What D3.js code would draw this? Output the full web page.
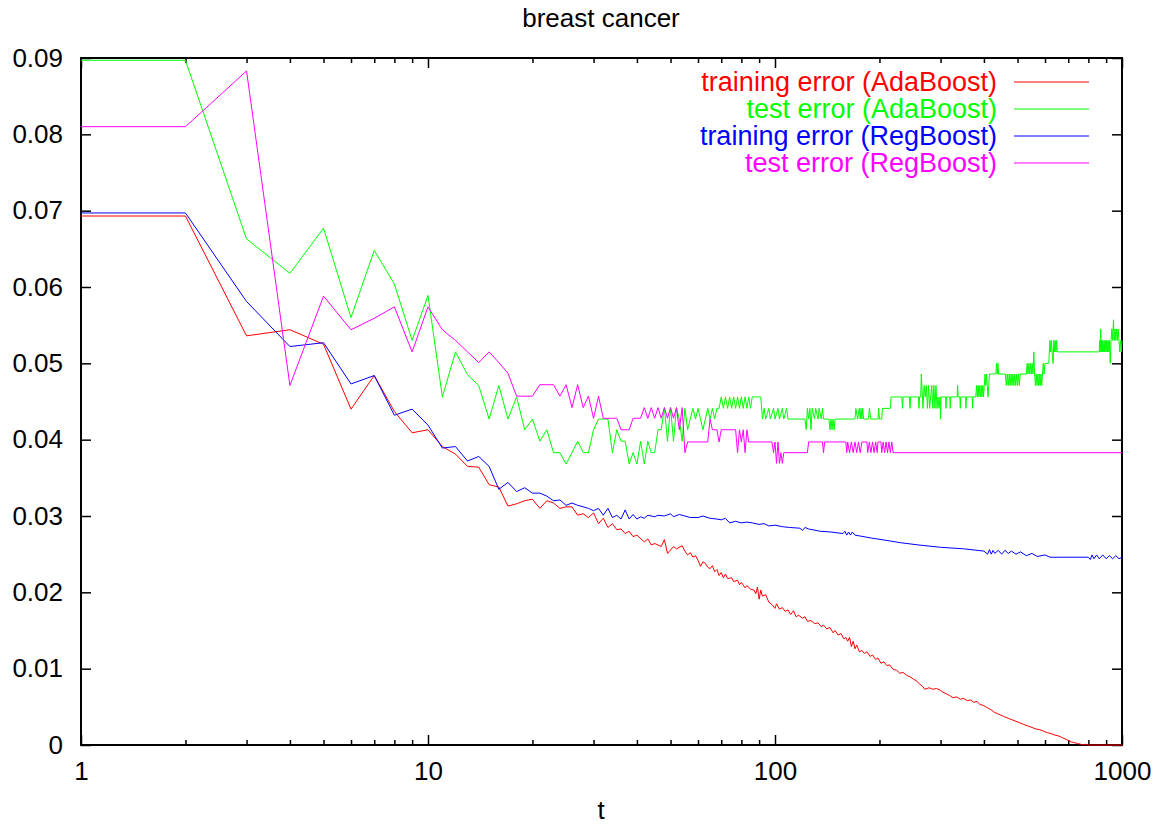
<!DOCTYPE html>
<html>
<head>
<meta charset="utf-8">
<script src="https://cdnjs.cloudflare.com/ajax/libs/d3/7.8.5/d3.min.js"></script>
<style>
  html, body { margin: 0; padding: 0; background: #fff; }
  svg { display: block; }
  text { font-family: "Liberation Sans", Arial, Helvetica, sans-serif; }
</style>
</head>
<body>
<svg id="chart" width="1161" height="824"></svg>
<script>
// ---------------- data ----------------
const chartTitle = "breast cancer";
const xLabel = "t";
const seriesNames = ["training error (AdaBoost)", "test error (AdaBoost)", "training error (RegBoost)", "test error (RegBoost)"];
const seriesColors = ["#ff0000", "#00ff00", "#0000ff", "#ff00ff"];
const xTickValues = [1, 10, 100, 1000];
const xMinorTicks = [2,3,4,5,6,7,8,9,20,30,40,50,60,70,80,90,200,300,400,500,600,700,800,900];
const yTickValues = [0, 0.01, 0.02, 0.03, 0.04, 0.05, 0.06, 0.07, 0.08, 0.09];

const trainAda = [[1,0.0693],[2,0.0693],[3,0.0536],[4,0.0544],[5,0.0525],[6,0.0440],[7,0.0484],[8,0.0437],[9,0.0409],[10,0.0413],[11,0.0391],[12,0.0381],[13,0.0365],[14,0.0364],[15,0.0341],[16,0.0338],[17,0.0313],[18,0.0316],[19,0.0320],[20,0.0322],[21,0.0310],[22,0.0320],[23,0.0317],[24,0.0310],[25,0.0312],[26,0.0312],[27,0.0301],[28,0.0303],[29,0.0298],[30,0.0304],[31,0.0290],[32,0.0297],[33,0.0285],[34,0.0290],[35,0.0282],[36,0.0283],[37,0.0277],[38,0.0280],[39,0.0273],[40,0.0275],[42,0.0266],[43,0.0270],[44,0.0262],[45,0.0264],[47,0.0260],[48,0.0269],[49,0.0251],[51,0.0260],[52,0.0257],[54,0.0261],[55,0.0254],[56,0.0249],[57,0.0252],[58,0.0246],[59,0.0248],[60,0.0242],[61,0.0234],[62,0.0240],[63,0.0238],[64,0.0233],[65,0.0231],[66,0.0235],[67,0.0227],[68,0.0230],[69,0.0222],[70,0.0226],[71,0.0219],[72,0.0224],[73,0.0218],[75,0.0219],[76,0.0214],[78,0.0216],[79,0.0210],[80,0.0213],[82,0.0206],[83,0.0209],[85,0.0204],[87,0.0203],[88,0.0198],[89,0.0207],[90,0.0191],[91,0.0203],[92,0.0195],[94,0.0197],[96,0.0187],[98,0.0184],[100,0.0179],[101,0.0185],[103,0.0178],[105,0.0180],[107,0.0175],[109,0.0177],[111,0.0171],[113,0.0176],[115,0.0168],[117,0.0170],[120,0.0166],[122,0.0168],[124,0.0162],[127,0.0163],[130,0.0159],[133,0.0160],[136,0.0155],[138,0.0157],[141,0.0152],[144,0.0154],[147,0.0147],[149,0.0150],[152,0.0144],[155,0.0146],[158,0.0139],[160,0.0141],[162,0.0136],[164,0.0141],[166,0.0129],[168,0.0136],[170,0.0126],[172,0.0131],[175,0.0122],[178,0.0124],[181,0.0120],[184,0.0122],[188,0.0116],[191,0.0118],[195,0.0112],[198,0.0114],[202,0.0107],[206,0.0109],[210,0.0104],[214,0.0105],[219,0.0099],[224,0.0098],[229,0.0094],[234,0.0095],[240,0.0091],[246,0.0089],[251,0.0086],[256,0.0084],[262,0.0079],[266,0.0077],[270,0.0073],[278,0.0075],[285,0.0073],[292,0.0074],[299,0.0072],[305,0.0069],[312,0.0067],[318,0.0065],[326,0.0062],[334,0.0063],[342,0.0060],[350,0.0061],[358,0.0058],[366,0.0059],[374,0.0056],[382,0.0057],[390,0.0053],[398,0.0052],[405,0.0050],[412,0.0048],[420,0.0046],[428,0.0043],[438,0.0041],[448,0.0039],[458,0.0037],[470,0.0035],[482,0.0033],[495,0.0031],[508,0.0029],[520,0.0027],[535,0.0025],[550,0.0023],[565,0.0021],[580,0.0020],[595,0.0018],[610,0.0016],[625,0.0015],[640,0.0013],[655,0.0012],[670,0.0010],[685,0.0008],[700,0.0006],[715,0.0004],[730,0.0003],[745,0.0002],[760,0.0001],[775,0.0000],[785,0.0001],[800,0.0000],[1000,0.0000]];

const testAda = [[1,0.0897],[2,0.0897],[3,0.0663],[4,0.0618],[5,0.0677],[6,0.0560],[7,0.0648],[8,0.0604],[9,0.0530],[10,0.0589],[11,0.0456],[12,0.0515],[13,0.0485],[14,0.0471],[15,0.0427],[16,0.0471],[17,0.0427],[18,0.0456],[19,0.0413],[20,0.0427],[21,0.0398],[22,0.0413],[23,0.0383],[24,0.0383],[25,0.0368],[26,0.0383],[27,0.0398],[28,0.0383],[29,0.0383],[30,0.0413],[31,0.0427],[32,0.0427],[33,0.0427],[34,0.0383],[35,0.0413],[36,0.0398],[37,0.0398],[38,0.0368],[39,0.0383],[40,0.0368],[41,0.0398],[42,0.0368],[43,0.0398],[44,0.0383],[45,0.0383],[46,0.0413],[47,0.0413],[48,0.0442],[49,0.0398],[50,0.0442],[51,0.0398],[52,0.0442],[53,0.0427],[54,0.0398],[55,0.0441],[56,0.0413],[57,0.0427],[58,0.0441],[59,0.0427],[60,0.0441],[61,0.0427],[62,0.0413],[63,0.0427],[64,0.0441],[65,0.0427],[66,0.0441],[67,0.0427],[68,0.0441],[69,0.0441],[70,0.0456],[71,0.0441],[72,0.0456],[73,0.0441],[74,0.0456],[75,0.0441],[76,0.0456],[77,0.0441],[78,0.0456],[79,0.0441],[80,0.0456],[81,0.0441],[82,0.0456],[83,0.0441],[84,0.0456],[85,0.0441],[86,0.0456],[91,0.0456],[92,0.0427],[93,0.0441],[94,0.0427],[96,0.0441],[97,0.0427],[99,0.0441],[100,0.0427],[102,0.0441],[103,0.0427],[105,0.0441],[106,0.0427],[108,0.0441],[109,0.0427],[122,0.0427],[123,0.0413],[124,0.0441],[125,0.0427],[126,0.0441],[127,0.0413],[128,0.0441],[130,0.0427],[131,0.0441],[133,0.0427],[134,0.0441],[136,0.0427],[137,0.0441],[138,0.0427],[143,0.0427],[144,0.0413],[145,0.0427],[146,0.0413],[147,0.0427],[148,0.0413],[149,0.0427],[170,0.0427],[171,0.0441],[173,0.0427],[175,0.0441],[176,0.0427],[177,0.0441],[178,0.0427],[179,0.0441],[180,0.0427],[186,0.0427],[187,0.0441],[189,0.0427],[198,0.0427],[199,0.0441],[200,0.0427],[203,0.0427],[204,0.0441],[215,0.0441],[216,0.0456],[232,0.0456],[233,0.0441],[234,0.0456],[244,0.0456],[245,0.0441],[246,0.0456],[259,0.0456],[260,0.0441],[261,0.0456],[263,0.0456],[264,0.0486],[265,0.0471],[267,0.0441],[269,0.0471],[271,0.0456],[273,0.0471],[275,0.0441],[277,0.0471],[279,0.0441],[281,0.0456],[283,0.0471],[285,0.0441],[287,0.0471],[289,0.0441],[291,0.0471],[293,0.0441],[295,0.0456],[297,0.0441],[299,0.0456],[300,0.0427],[301,0.0456],[310,0.0456],[311,0.0441],[312,0.0456],[319,0.0456],[320,0.0441],[321,0.0456],[335,0.0456],[336,0.0471],[337,0.0456],[341,0.0456],[342,0.0441],[343,0.0456],[354,0.0456],[355,0.0441],[356,0.0456],[370,0.0456],[371,0.0441],[372,0.0456],[379,0.0456],[381,0.0471],[383,0.0456],[385,0.0471],[387,0.0456],[389,0.0471],[391,0.0456],[393,0.0471],[395,0.0456],[397,0.0471],[399,0.0456],[401,0.0471],[403,0.0486],[405,0.0471],[407,0.0486],[409,0.0471],[411,0.0456],[413,0.0471],[415,0.0486],[433,0.0486],[435,0.0500],[437,0.0486],[439,0.0500],[441,0.0486],[461,0.0486],[464,0.0471],[467,0.0486],[470,0.0471],[473,0.0486],[476,0.0471],[479,0.0486],[482,0.0471],[485,0.0486],[488,0.0471],[491,0.0486],[494,0.0471],[497,0.0486],[500,0.0471],[503,0.0486],[506,0.0471],[509,0.0486],[530,0.0486],[533,0.0500],[536,0.0486],[539,0.0500],[542,0.0486],[545,0.0500],[548,0.0486],[551,0.0500],[554,0.0486],[557,0.0515],[560,0.0486],[563,0.0471],[566,0.0486],[569,0.0471],[572,0.0486],[575,0.0471],[578,0.0486],[581,0.0471],[584,0.0486],[587,0.0471],[590,0.0486],[593,0.0500],[596,0.0486],[600,0.0500],[615,0.0500],[620,0.0530],[623,0.0515],[626,0.0530],[629,0.0515],[633,0.0500],[636,0.0530],[639,0.0515],[642,0.0530],[645,0.0515],[648,0.0530],[651,0.0515],[860,0.0515],[862,0.0530],[865,0.0515],[868,0.0545],[871,0.0515],[874,0.0530],[877,0.0515],[880,0.0530],[884,0.0515],[888,0.0530],[892,0.0515],[896,0.0530],[900,0.0515],[904,0.0530],[908,0.0515],[912,0.0530],[916,0.0515],[920,0.0530],[925,0.0500],[930,0.0530],[935,0.0545],[940,0.0530],[945,0.0557],[950,0.0530],[955,0.0545],[960,0.0530],[965,0.0545],[970,0.0530],[975,0.0545],[980,0.0530],[985,0.0515],[990,0.0530],[995,0.0515],[1000,0.0530]];

const trainReg = [[1,0.0697],[2,0.0697],[3,0.0581],[4,0.0522],[5,0.0527],[6,0.0473],[7,0.0484],[8,0.0432],[9,0.0440],[10,0.0419],[11,0.0389],[12,0.0391],[13,0.0372],[14,0.0378],[15,0.0365],[16,0.0335],[17,0.0344],[18,0.0332],[19,0.0337],[20,0.0330],[21,0.0330],[22,0.0326],[23,0.0320],[24,0.0321],[25,0.0314],[26,0.0317],[27,0.0314],[28,0.0312],[29,0.0310],[30,0.0307],[31,0.0310],[32,0.0301],[33,0.0310],[34,0.0298],[35,0.0301],[36,0.0296],[37,0.0308],[38,0.0296],[39,0.0302],[40,0.0296],[41,0.0299],[42,0.0297],[43,0.0301],[45,0.0299],[46,0.0301],[48,0.0300],[50,0.0303],[51,0.0299],[53,0.0302],[55,0.0300],[57,0.0298],[60,0.0298],[62,0.0300],[65,0.0297],[68,0.0296],[70,0.0295],[72,0.0297],[74,0.0291],[77,0.0293],[80,0.0291],[83,0.0292],[86,0.0291],[90,0.0289],[93,0.0290],[96,0.0287],[100,0.0288],[105,0.0286],[110,0.0285],[118,0.0284],[120,0.0281],[122,0.0285],[125,0.0283],[135,0.0280],[145,0.0279],[157,0.0277],[159,0.0280],[161,0.0275],[163,0.0279],[165,0.0275],[167,0.0279],[170,0.0275],[190,0.0271],[210,0.0268],[230,0.0265],[260,0.0262],[300,0.0259],[350,0.0257],[400,0.0254],[410,0.0250],[415,0.0256],[420,0.0250],[425,0.0255],[430,0.0251],[440,0.0255],[450,0.0250],[460,0.0255],[470,0.0251],[480,0.0254],[495,0.0250],[510,0.0253],[530,0.0248],[550,0.0251],[570,0.0247],[600,0.0249],[620,0.0246],[650,0.0246],[800,0.0246],[810,0.0243],[820,0.0249],[830,0.0244],[845,0.0249],[860,0.0244],[880,0.0249],[900,0.0244],[920,0.0248],[940,0.0244],[960,0.0248],[980,0.0244],[1000,0.0246]];

const testReg = [[1,0.0810],[2,0.0810],[3,0.0883],[4,0.0471],[5,0.0588],[6,0.0544],[7,0.0559],[8,0.0574],[9,0.0515],[10,0.0574],[11,0.0544],[12,0.0530],[13,0.0515],[14,0.0501],[15,0.0515],[16,0.0501],[17,0.0487],[18,0.0457],[19,0.0457],[20,0.0457],[21,0.0472],[22,0.0472],[23,0.0472],[24,0.0457],[25,0.0472],[26,0.0442],[27,0.0472],[28,0.0442],[29,0.0457],[30,0.0428],[31,0.0457],[32,0.0428],[33,0.0428],[34,0.0428],[35,0.0428],[36,0.0413],[37,0.0413],[38,0.0413],[39,0.0428],[40,0.0428],[41,0.0428],[42,0.0442],[43,0.0428],[44,0.0442],[45,0.0428],[46,0.0442],[47,0.0428],[48,0.0442],[49,0.0428],[50,0.0442],[51,0.0428],[52,0.0442],[53,0.0413],[54,0.0442],[55,0.0383],[56,0.0397],[64,0.0397],[65,0.0427],[66,0.0413],[68,0.0413],[69,0.0397],[70,0.0413],[77,0.0413],[78,0.0383],[79,0.0413],[80,0.0397],[81,0.0413],[82,0.0383],[83,0.0413],[84,0.0397],[98,0.0397],[99,0.0383],[100,0.0397],[101,0.0369],[102,0.0397],[103,0.0369],[104,0.0383],[105,0.0369],[106,0.0383],[124,0.0383],[125,0.0397],[137,0.0397],[138,0.0383],[139,0.0397],[160,0.0397],[161,0.0383],[162,0.0397],[164,0.0383],[166,0.0397],[168,0.0383],[170,0.0397],[172,0.0383],[174,0.0397],[176,0.0383],[178,0.0397],[184,0.0397],[185,0.0383],[187,0.0397],[189,0.0383],[191,0.0397],[193,0.0383],[195,0.0397],[197,0.0383],[198,0.0397],[202,0.0397],[203,0.0383],[205,0.0397],[207,0.0383],[209,0.0397],[211,0.0383],[213,0.0397],[215,0.0383],[217,0.0397],[219,0.0383],[1000,0.0383]];

const allSeries = [trainAda, testAda, trainReg, testReg];

// ---------------- layout ----------------
const plotLeft = 81, plotRight = 1122, plotTop = 58, plotBottom = 745;
const fontSize = 26;
const legendFontSize = 27;

const svg = d3.select("#chart");
const x = d3.scaleLog().domain([1, 1000]).range([plotLeft, plotRight]);
const y = d3.scaleLinear().domain([0, 0.09]).range([plotBottom, plotTop]);

function styleAxis(g) {
  g.select(".domain").remove();
  g.selectAll(".tick line").attr("stroke", "#000").attr("stroke-width", 1.5);
  g.selectAll(".tick text").attr("fill", "#000").style("font-size", fontSize + "px")
    .style("font-family", '"Liberation Sans", Arial, sans-serif');
}

// left axis with labels
svg.append("g").attr("transform", `translate(${plotLeft},0)`)
  .call(d3.axisLeft(y).tickValues(yTickValues).tickSize(-10).tickPadding(18)
    .tickFormat(d => d === 0 ? "0" : d3.format(".2f")(d)))
  .call(styleAxis);
// right axis ticks
svg.append("g").attr("transform", `translate(${plotRight},0)`)
  .call(d3.axisRight(y).tickValues(yTickValues).tickSize(-10).tickFormat(""))
  .call(styleAxis);
// bottom axis major with labels
svg.append("g").attr("transform", `translate(0,${plotBottom})`)
  .call(d3.axisBottom(x).tickValues(xTickValues).tickSize(-10).tickPadding(17).tickFormat(d3.format("d")))
  .call(styleAxis);
svg.append("g").attr("transform", `translate(0,${plotBottom})`)
  .call(d3.axisBottom(x).tickValues(xMinorTicks).tickSize(-5).tickFormat(""))
  .call(styleAxis);
// top axis ticks
svg.append("g").attr("transform", `translate(0,${plotTop})`)
  .call(d3.axisTop(x).tickValues(xTickValues).tickSize(-10).tickFormat(""))
  .call(styleAxis);
svg.append("g").attr("transform", `translate(0,${plotTop})`)
  .call(d3.axisTop(x).tickValues(xMinorTicks).tickSize(-5).tickFormat(""))
  .call(styleAxis);

// border
svg.append("rect")
  .attr("x", plotLeft).attr("y", plotTop)
  .attr("width", plotRight - plotLeft).attr("height", plotBottom - plotTop)
  .attr("fill", "none").attr("stroke", "#000").attr("stroke-width", 2);

// lines
const line = d3.line().x(d => x(d[0])).y(d => y(d[1]));
allSeries.forEach((s, i) => {
  svg.append("path").datum(s)
    .attr("d", line)
    .attr("fill", "none")
    .attr("stroke", seriesColors[i])
    .attr("stroke-width", 1)
    .attr("stroke-linejoin", "miter");
});

// legend
const legendRowY = [82, 109, 136, 163];
seriesNames.forEach((name, i) => {
  svg.append("text")
    .attr("x", 997).attr("y", legendRowY[i]).attr("dy", "0.35em")
    .attr("text-anchor", "end")
    .style("font-size", legendFontSize + "px")
    .attr("fill", seriesColors[i])
    .text(name);
  svg.append("line")
    .attr("x1", 1014).attr("x2", 1089)
    .attr("y1", legendRowY[i]).attr("y2", legendRowY[i])
    .attr("stroke", seriesColors[i]).attr("stroke-width", 1);
});

// title and x label
svg.append("text").attr("x", 601).attr("y", 18).attr("dy", "0.35em")
  .attr("text-anchor", "middle").style("font-size", fontSize + "px").attr("fill", "#000")
  .text(chartTitle);
svg.append("text").attr("x", 601).attr("y", 810).attr("dy", "0.35em")
  .attr("text-anchor", "middle").style("font-size", fontSize + "px").attr("fill", "#000")
  .text(xLabel);
</script>
</body>
</html>
